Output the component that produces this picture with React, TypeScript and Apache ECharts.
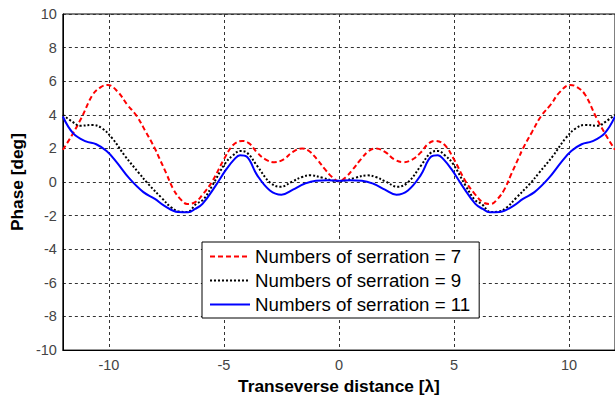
import React, { useEffect, useRef } from "react";
import * as echarts from "echarts";

const seriesNames = [
  "Numbers of serration = 7",
  "Numbers of serration = 9",
  "Numbers of serration = 11",
];

// Numbers of serration = 7 (red dashed)
const s7X = [
  -12, -11.6, -11.2, -10.7, -10.35, -10.05, -9.6, -9.2, -8.8, -8.4, -8.0, -7.8, -7.5, -7.2, -6.9, -6.6, -6.25, -5.9,
  -5.5, -5.0, -4.6, -4.2, -3.9, -3.55, -3.2, -2.8, -2.4, -2.0, -1.6, -1.3, -0.95, -0.6, -0.3, 0,
  0.3, 0.6, 0.95, 1.3, 1.6, 2.0, 2.4, 2.8, 3.2, 3.55, 3.9, 4.2, 4.6, 5.0, 5.5, 5.9, 6.25, 6.6, 6.9, 7.2, 7.5, 7.8,
  8.0, 8.4, 8.8, 9.2, 9.6, 10.05, 10.35, 10.7, 11.2, 11.6, 12,
];
const s7Y = [
  1.92, 2.8, 3.8, 5.2, 5.65, 5.78, 5.35, 4.6, 3.95, 3.0, 2.0, 1.4, 0.5, -0.42, -1.0, -1.3, -1.2, -0.7,
  0.05, 1.35, 2.2, 2.45, 2.3, 1.75, 1.35, 1.18, 1.35, 1.8, 2.0, 1.85, 1.35, 0.75, 0.3, 0.05,
  0.3, 0.75, 1.35, 1.85, 2.0, 1.8, 1.35, 1.18, 1.35, 1.75, 2.3, 2.45, 2.2, 1.35, 0.05, -0.7, -1.2, -1.3, -1.0, -0.42,
  0.5, 1.4, 2.0, 3.0, 3.95, 4.6, 5.35, 5.78, 5.65, 5.2, 3.8, 2.8, 1.92,
];

// Numbers of serration = 9 (black dotted)
const s9X = [
  -12, -11.6, -11.25, -10.7, -10.3, -9.85, -9.3, -8.7, -8.3, -7.7, -7.3, -6.95, -6.6, -6.2, -5.9, -5.5, -4.95, -4.6,
  -4.3, -4.0, -3.55, -3.0, -2.55, -2.0, -1.6, -1.25, -0.7, -0.3, 0,
  0.3, 0.7, 1.25, 1.6, 2.0, 2.55, 3.0, 3.55, 4.0, 4.3, 4.6, 4.95, 5.5, 5.9, 6.2, 6.6, 6.95, 7.3, 7.7, 8.3, 8.7, 9.3,
  9.85, 10.3, 10.7, 11.25, 11.6, 12,
];
const s9Y = [
  4.0, 3.6, 3.35, 3.4, 3.2, 2.6, 1.55, 0.55, -0.1, -0.95, -1.5, -1.75, -1.78, -1.3, -1.05, -0.2, 1.1, 1.6,
  1.85, 1.75, 0.95, -0.02, -0.28, 0.05, 0.3, 0.4, 0.25, 0.1, 0.05,
  0.1, 0.25, 0.4, 0.3, 0.05, -0.28, -0.02, 0.95, 1.75, 1.85, 1.6, 1.1, -0.2, -1.05, -1.3, -1.78, -1.75, -1.5, -0.95,
  -0.1, 0.55, 1.55, 2.6, 3.2, 3.4, 3.35, 3.6, 4.0,
];

// Numbers of serration = 11 (blue solid)
const s11X = [
  -12, -11.55, -11.0, -10.55, -10.1, -9.7, -9.1, -8.5, -8.0, -7.6, -7.0, -6.55, -6.25, -5.93, -5.35, -4.9, -4.55,
  -4.3, -4.0, -3.55, -3.0, -2.5, -2.0, -1.5, -1.0, -0.5, 0,
  0.5, 1.0, 1.5, 2.0, 2.5, 3.0, 3.55, 4.0, 4.3, 4.55, 4.9, 5.35, 5.93, 6.25, 6.55, 7.0, 7.6, 8.0, 8.5, 9.1, 9.7,
  10.1, 10.55, 11.0, 11.55, 12,
];
const s11Y = [
  3.9, 2.9, 2.42, 2.25, 1.85, 1.25, 0.2, -0.6, -1.0, -1.4, -1.78, -1.8, -1.6, -1.3, -0.2, 0.75, 1.35,
  1.6, 1.5, 0.4, -0.5, -0.75, -0.45, -0.1, 0.08, 0.1, 0.08,
  0.1, 0.08, -0.1, -0.45, -0.75, -0.5, 0.4, 1.5, 1.6, 1.35, 0.75, -0.2, -1.3, -1.6, -1.8, -1.78, -1.4, -1.0, -0.6,
  0.2, 1.25, 1.85, 2.25, 2.42, 2.9, 3.9,
];

const zip = (xs: number[], ys: number[]) => xs.map((x, i) => [x, ys[i]]);

const FONT = "'Liberation Sans', Arial, Helvetica, sans-serif";

export default function App() {
  const ref = useRef<HTMLDivElement>(null);

  useEffect(() => {
    if (!ref.current) return;
    const chart = echarts.init(ref.current, undefined, { renderer: "svg" });
    const gridLine = { show: true, lineStyle: { color: "#333", width: 1, type: [3, 3] as any } };
    chart.setOption({
      animation: false,
      backgroundColor: "#fff",
      textStyle: { fontFamily: FONT },
      grid: {
        left: 61,
        top: 14,
        width: 556,
        height: 341,
        show: true,
        borderColor: "#000",
        borderWidth: 1,
        backgroundColor: "transparent",
      },
      legend: {
        orient: "vertical",
        left: 202,
        top: 242,
        itemWidth: 40,
        itemHeight: 14,
        itemGap: 5,
        padding: [5, 9, 4, 7],
        borderColor: "#000",
        borderWidth: 1,
        borderRadius: 0,
        backgroundColor: "#fff",
        itemStyle: { opacity: 0 },
        textStyle: { fontSize: 18.7, color: "#000", fontFamily: FONT },
        data: seriesNames,
      },
      xAxis: {
        type: "value",
        min: -12,
        max: 12,
        name: "Transeverse distance [λ]",
        nameLocation: "middle",
        nameGap: 26,
        nameTextStyle: { fontSize: 17.3, fontWeight: "bold", color: "#000", fontFamily: FONT },
        axisLine: { show: true, onZero: false, lineStyle: { color: "#000", width: 1 } },
        axisTick: { show: false },
        axisLabel: {
          showMinLabel: false,
          showMaxLabel: false,
          fontSize: 14.5,
          color: "#444",
          margin: 7,
          fontFamily: FONT,
        },
        splitLine: gridLine,
      },
      yAxis: {
        type: "value",
        min: -10,
        max: 10,
        interval: 2,
        name: "Phase [deg]",
        nameLocation: "middle",
        nameGap: 36,
        nameRotate: 90,
        nameTextStyle: { fontSize: 17.3, fontWeight: "bold", color: "#000", fontFamily: FONT },
        axisLine: { show: true, onZero: false, lineStyle: { color: "#000", width: 1 } },
        axisTick: { show: false },
        axisLabel: { fontSize: 14.5, color: "#444", margin: 6, fontFamily: FONT },
        splitLine: gridLine,
      },
      series: [
        {
          name: seriesNames[0],
          type: "line",
          data: zip(s7X, s7Y),
          smooth: 0.4,
          symbol: "none",
          lineStyle: { color: "#ff0000", width: 2, type: [5, 3] },
          itemStyle: { color: "#ff0000" },
          z: 3,
        },
        {
          name: seriesNames[1],
          type: "line",
          data: zip(s9X, s9Y),
          smooth: 0.4,
          symbol: "none",
          lineStyle: { color: "#000", width: 2, type: [2, 2] },
          itemStyle: { color: "#000" },
          z: 4,
        },
        {
          name: seriesNames[2],
          type: "line",
          data: zip(s11X, s11Y),
          smooth: 0.4,
          symbol: "none",
          lineStyle: { color: "#0000ff", width: 2, type: "solid" },
          itemStyle: { color: "#0000ff" },
          z: 5,
        },
      ],
    });
    return () => chart.dispose();
  }, []);

  return (
    <div
      ref={ref}
      style={{ position: "fixed", left: 0, top: 0, width: 615, height: 399 }}
    />
  );
}
